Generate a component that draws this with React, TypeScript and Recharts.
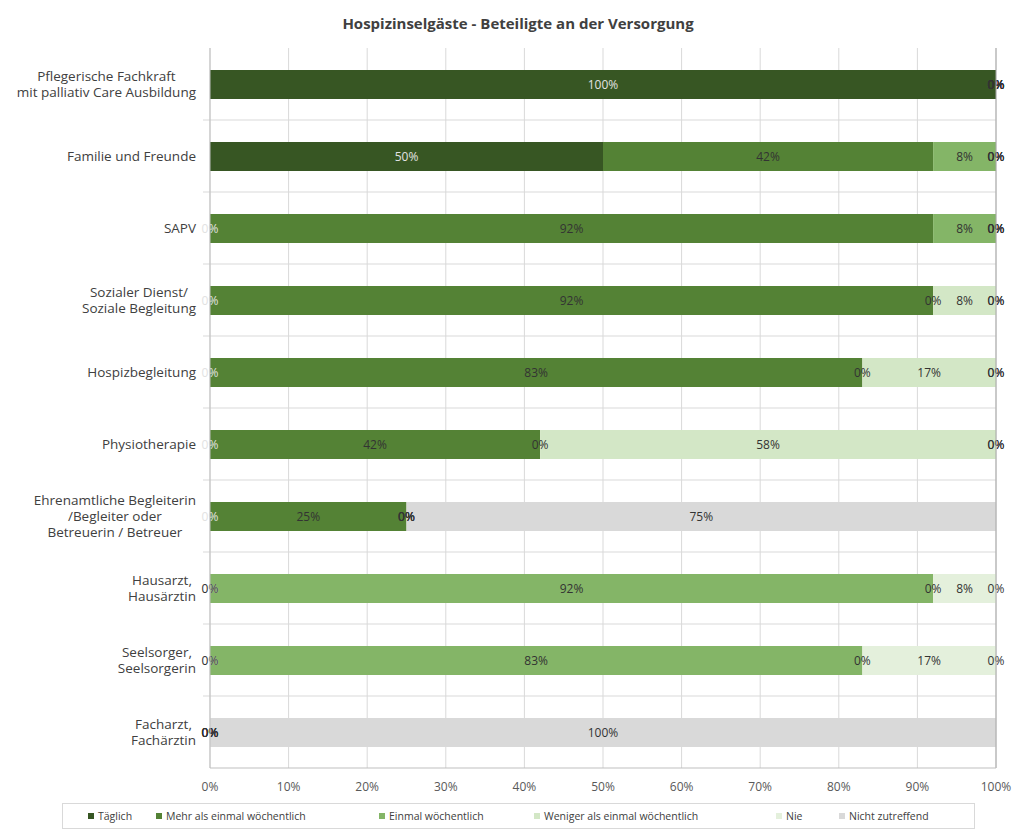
import React from "react";
import {
  BarChart,
  Bar,
  XAxis,
  YAxis,
  CartesianGrid,
  Legend,
  ReferenceLine,
} from "recharts";

const FONT = "'Open Sans', 'Liberation Sans', sans-serif";

const title = "Hospizinselgäste - Beteiligte an der Versorgung";

const categories = [
  "Pflegerische Fachkraft\nmit palliativ Care Ausbildung",
  "Familie und Freunde",
  "SAPV",
  "Sozialer Dienst/\nSoziale Begleitung",
  "Hospizbegleitung",
  "Physiotherapie",
  "Ehrenamtliche Begleiterin\n/Begleiter oder\nBetreuerin / Betreuer",
  "Hausarzt,\nHausärztin",
  "Seelsorger,\nSeelsorgerin",
  "Facharzt,\nFachärztin",
];

const taeglich = [100, 50, 0, 0, 0, 0, 0, 0, 0, 0];
const mehrAlsEinmal = [0, 42, 92, 92, 83, 42, 25, 0, 0, 0];
const einmal = [0, 8, 8, 0, 0, 0, 0, 92, 83, 0];
const weniger = [0, 0, 0, 8, 17, 58, 0, 0, 0, 0];
const nie = [0, 0, 0, 0, 0, 0, 0, 8, 17, 0];
const nichtZutreffend = [0, 0, 0, 0, 0, 0, 75, 0, 0, 100];

const xTicks = [0, 10, 20, 30, 40, 50, 60, 70, 80, 90, 100];

const series = [
  { key: "taeglich", name: "Täglich", values: taeglich, color: "#375623", labelColor: "#e2e2e2" },
  { key: "mehr", name: "Mehr als einmal wöchentlich", values: mehrAlsEinmal, color: "#548235", labelColor: "#333333" },
  { key: "einmal", name: "Einmal wöchentlich", values: einmal, color: "#84b567", labelColor: "#333333" },
  { key: "weniger", name: "Weniger als einmal wöchentlich", values: weniger, color: "#d3e7c6", labelColor: "#333333" },
  { key: "nie", name: "Nie", values: nie, color: "#e4f0dc", labelColor: "#333333" },
  { key: "nicht", name: "Nicht zutreffend", values: nichtZutreffend, color: "#d9d9d9", labelColor: "#333333" },
];

// legend entry offsets inside the legend box (styling only)
const legendLefts = [25, 93, 316, 471, 713, 776];

const data = categories.map((name, i) => {
  const row: Record<string, any> = { name };
  let total = 0;
  series.forEach((s) => {
    row[s.key] = s.values[i];
    total += s.values[i];
  });
  row.total = total;
  return row;
});

let ctx: CanvasRenderingContext2D | null = null;
const measure = (t: string, font: string) => {
  if (!ctx) ctx = document.createElement("canvas").getContext("2d");
  if (!ctx) return t.length * 6;
  ctx.font = font;
  return ctx.measureText(t).width;
};

const Y_FONT_SIZE = 13.5;
const YTick = (props: any) => {
  const { x, y, payload } = props;
  const lines: string[] = String(payload.value).split("\n");
  const lh = 16;
  const maxW = Math.max(...lines.map((l) => measure(l, `${Y_FONT_SIZE}px 'Open Sans'`)));
  const cx = x - maxW / 2;
  const startY = y - ((lines.length - 1) * lh) / 2;
  return (
    <text
      x={cx}
      y={startY}
      textAnchor="middle"
      fontSize={Y_FONT_SIZE}
      fontFamily={FONT}
      fill="#404040"
    >
      {lines.map((l, i) => (
        <tspan key={i} x={cx} dy={i === 0 ? "0.35em" : lh}>
          {l}
        </tspan>
      ))}
    </text>
  );
};

// draws the data labels of every segment (zero segments included) on top of the stack
const LabelShape = (props: any) => {
  const { x, y, width, height, payload } = props;
  const total = payload.total || 1;
  let cum = 0;
  return (
    <g>
      {series.map((s) => {
        const v = payload[s.key];
        const cx = x + (width * (cum + v / 2)) / total;
        cum += v;
        return (
          <text
            key={s.key}
            x={cx}
            y={y + height / 2}
            textAnchor="middle"
            dominantBaseline="central"
            fill={s.labelColor}
            fontSize={12}
            fontFamily={FONT}
          >
            {`${v}%`}
          </text>
        );
      })}
    </g>
  );
};

const renderLegend = () => (
  <div
    style={{
      position: "relative",
      height: "100%",
      border: "1px solid #d9d9d9",
      boxSizing: "border-box",
      fontFamily: FONT,
      fontSize: 10.5,
      color: "#404040",
      whiteSpace: "nowrap",
    }}
  >
    {series.map((s, i) => (
      <div
        key={s.key}
        style={{
          position: "absolute",
          left: legendLefts[i],
          top: 0,
          height: "100%",
          display: "flex",
          alignItems: "center",
        }}
      >
        <span
          style={{
            display: "inline-block",
            width: 6,
            height: 6,
            background: s.color,
            marginRight: 4,
          }}
        />
        <span>{s.name}</span>
      </div>
    ))}
  </div>
);

const hLine = (props: any) => (
  <line
    key={props.key ?? `h-${props.y1}`}
    x1={props.x1 - 7}
    x2={props.x2}
    y1={props.y1}
    y2={props.y2}
    stroke="#d9d9d9"
    strokeWidth={1}
  />
);

export default function App() {
  return (
    <div style={{ position: "absolute", left: 0, top: 0, width: 1014, height: 829, background: "#fff" }}>
      <div
        style={{
          position: "absolute",
          left: 0,
          top: 14,
          width: 1036,
          textAlign: "center",
          fontFamily: FONT,
          fontWeight: 700,
          fontSize: 15,
          lineHeight: "18px",
          color: "#404040",
          zIndex: 2,
        }}
      >
        {title}
      </div>
      <BarChart
        layout="vertical"
        width={1014}
        height={829}
        data={data}
        margin={{ top: 48, right: 18, bottom: 31, left: 0 }}
        barSize={29}
      >
        <CartesianGrid
          stroke="#d9d9d9"
          horizontal={hLine}
          horizontalCoordinatesGenerator={({ offset }: any) =>
            categories
              .map((_, i) => offset.top + (i * offset.height) / categories.length)
              .slice(1)
          }
        />
        <XAxis
          type="number"
          domain={[0, 100]}
          ticks={xTicks}
          tickFormatter={(v: number) => `${v}%`}
          axisLine={{ stroke: "#bfbfbf" }}
          tickLine={false}
          tickSize={0}
          tickMargin={14}
          height={30}
          tick={{ fontSize: 12, fill: "#595959", fontFamily: FONT }}
        />
        <YAxis
          type="category"
          dataKey="name"
          width={210}
          axisLine={{ stroke: "#bfbfbf" }}
          tickLine={false}
          tickSize={0}
          tickMargin={14}
          interval={0}
          tick={<YTick />}
        />
        <YAxis yAxisId="lbl" type="category" dataKey="name" hide />
        {series.map((s) => (
          <Bar
            key={s.key}
            dataKey={s.key}
            name={s.name}
            stackId="a"
            fill={s.color}
            isAnimationActive={false}
          />
        ))}
        <ReferenceLine x={100} stroke="#a6a6a6" />
        <Bar
          dataKey="total"
          yAxisId="lbl"
          fill="transparent"
          legendType="none"
          isAnimationActive={false}
          shape={(p: any) => <LabelShape {...p} />}
        />
        <Legend
          layout="horizontal"
          verticalAlign="middle"
          align="center"
          wrapperStyle={{ position: "absolute", left: 62, top: 803, width: 913, height: 26 }}
          content={renderLegend}
        />
      </BarChart>
    </div>
  );
}
